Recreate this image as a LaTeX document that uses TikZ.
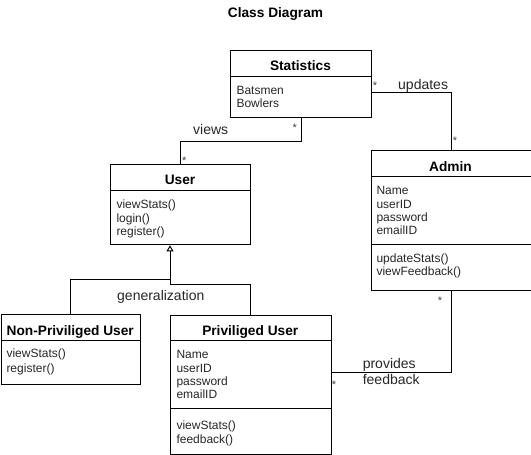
\documentclass[tikz,border=0pt]{standalone}
\usepackage{fontspec}
\setmainfont{Liberation Sans}
\usetikzlibrary{arrows.meta}
\begin{document}
\begin{tikzpicture}[x=1pt,y=-1pt,
  line width=1pt,
  classbox/.style={draw, rectangle, inner sep=0pt, anchor=north west},
  hdr/.style={anchor=base, inner sep=0pt, font=\fontsize{13.7}{16}\selectfont\bfseries},
  attr/.style={anchor=base west, inner sep=0pt, text=black!85, font=\fontsize{12}{14}\selectfont},
  lbl/.style={inner sep=0pt, text=black!85, font=\fontsize{14}{15.7}\selectfont},
  mult/.style={anchor=base, inner sep=0pt, text=black!75, font=\fontsize{11}{12}\selectfont},
  gentip/.style={-{Triangle[open,length=6pt,width=7pt]}}
]
\useasboundingbox (0,0) rectangle (531,455);

% title
\node[hdr] (title) at (275.5,17.3) {Class Diagram};

% Statistics
\node[classbox, minimum width=141pt, minimum height=67pt] (stat) at (230,50) {};
\draw (230,76) -- (371,76);
\node[hdr] (statH) at (300.5,70) {Statistics};
\node[attr] (statA1) at (236,94) {Batsmen};
\node[attr] (statA2) at (236,107.6) {Bowlers};

% Admin
\node[classbox, minimum width=160pt, minimum height=140pt] (admin) at (370.5,150) {};
\draw (370.5,176) -- (530.5,176);
\draw (370.5,244) -- (530.5,244);
\node[hdr] (adminH) at (450.5,171.7) {Admin};
\node[attr] (adA1) at (376,194.6) {Name};
\node[attr] (adA2) at (376,208) {userID};
\node[attr] (adA3) at (376,221.4) {password};
\node[attr] (adA4) at (376,234.8) {emailID};
\node[attr] (adM1) at (376,262) {updateStats()};
\node[attr] (adM2) at (376,275.4) {viewFeedback()};

% User
\node[classbox, minimum width=140pt, minimum height=80pt] (user) at (110,164.3) {};
\draw (110,190.7) -- (250,190.7);
\node[hdr] (userH) at (180,184) {User};
\node[attr] (usM1) at (116,208) {viewStats()};
\node[attr] (usM2) at (116,222) {login()};
\node[attr] (usM3) at (116,235.3) {register()};

% Non-Priviliged User
\node[classbox, minimum width=139.5pt, minimum height=69.5pt] (nonpriv) at (0.5,314) {};
\draw (0.5,340.7) -- (140,340.7);
\node[hdr] (npH) at (70.25,335) {Non-Priviliged User};
\node[attr] (npM1) at (6,357.6) {viewStats()};
\node[attr] (npM2) at (6,372) {register()};

% Priviliged User
\node[classbox, minimum width=160.5pt, minimum height=139pt] (priv) at (170,314.5) {};
\draw (170,340) -- (330.5,340);
\draw (170,408) -- (330.5,408);
\node[hdr] (prH) at (250.25,335) {Priviliged User};
\node[attr] (prA1) at (176,358.6) {Name};
\node[attr] (prA2) at (176,372) {userID};
\node[attr] (prA3) at (176,385.3) {password};
\node[attr] (prA4) at (176,398.6) {emailID};
\node[attr] (prM1) at (176,429.6) {viewStats()};
\node[attr] (prM2) at (176,443.6) {feedback()};

% bend coordinates
\coordinate (uy) at (0,92.7);
\coordinate (vy) at (0,141.5);
\coordinate (py) at (0,372.3);
\coordinate (gx) at (170,0);
\coordinate (gly) at (0,279.3);
\coordinate (gry) at (0,284.3);

% updates
\draw (stat.east |- uy) -| (admin.north);
\node[lbl, anchor=base west] (updL) at (397.7,89.5) {updates};
\node[mult] (m1) at (375,89.2) {*};
\node[mult] (m2) at (455,144.6) {*};

% views
\draw (stat.south) |- (user.north |- vy) -- (user.north);
\node[lbl, anchor=base west] (viewL) at (192.7,134) {views};
\node[mult] (m3) at (294.7,131.2) {*};
\node[mult] (m4) at (184.3,164.6) {*};

% provides feedback
\draw (admin.south) |- (priv.east |- py);
\node[lbl, anchor=north west, align=left] (provL) at (362.3,358.3) {provides\\feedback};
\node[mult] (m5) at (440,304.6) {*};
\node[mult] (m6) at (334,388.6) {*};

% generalization
\draw[gentip] (nonpriv.north) |- (gx |- gly) -- (gx |- user.south);
\draw (priv.north) |- (gx |- gry) -- (gx |- gly);
\node[lbl, anchor=base west] (genL) at (116.7,300) {generalization};
\end{tikzpicture}
\end{document}
